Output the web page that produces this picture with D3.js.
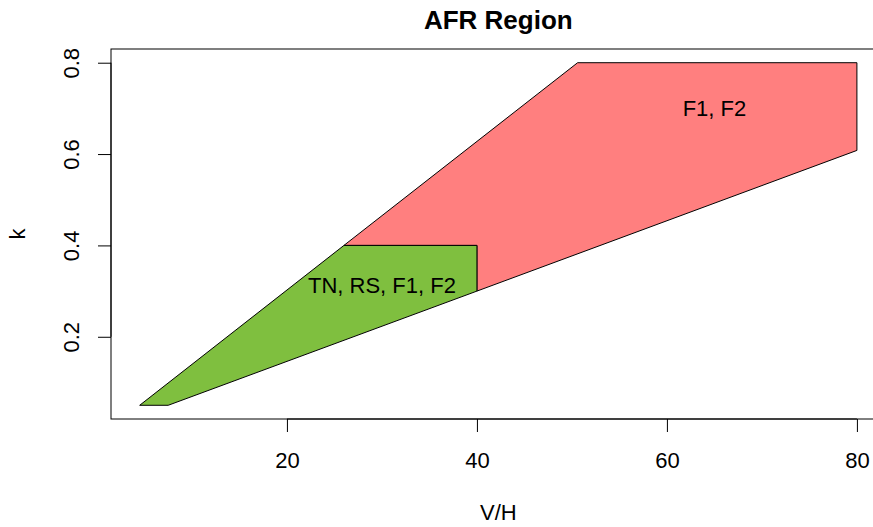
<!DOCTYPE html>
<html>
<head>
<meta charset="utf-8">
<script src="https://cdn.jsdelivr.net/npm/d3@7"></script>
<style>
  body { margin: 0; background: #fff; }
  text { font-family: "Liberation Sans", Arial, sans-serif; fill: #000; }
</style>
</head>
<body>
<div id="chart"></div>
<script>
// AFR region polygons (V/H vs k)
const greenVH = [4.5, 7.5, 40, 40, 26];
const greenK = [0.05, 0.05, 0.3, 0.4, 0.4];
const redVH = [26, 50.6, 80, 80, 40, 40];
const redK = [0.4, 0.8, 0.8, 0.608, 0.3, 0.4];
const regionLabels = ["TN, RS, F1, F2", "F1, F2"];
const labelVH = [30, 65];
const labelK = [0.313, 0.7];
const xTicks = [20, 40, 60, 80];
const yTicks = [0.2, 0.4, 0.6, 0.8];

const W = 873, H = 527;
const box = { left: 111, right: 885.6, top: 49, bottom: 419 };
const fs = "22px";

const svg = d3.select("#chart").append("svg")
    .attr("width", W).attr("height", H);

// R style 4% padding around data range
const x = d3.scaleLinear().domain([1.48, 83.02]).range([box.left, box.right]);
const y = d3.scaleLinear().domain([0.02, 0.83]).range([box.bottom, box.top]);

const line = d3.line().x(d => x(d[0])).y(d => y(d[1]));
const poly = (vx, vy) => line(vx.map((v, i) => [v, vy[i]])) + "Z";

svg.append("path")
    .attr("d", poly(redVH, redK))
    .attr("fill", "#ff7f7f")
    .attr("stroke", "#000").attr("stroke-width", 1);

svg.append("path")
    .attr("d", poly(greenVH, greenK))
    .attr("fill", "#7fbf3f")
    .attr("stroke", "#000").attr("stroke-width", 1);

svg.selectAll(".region-label")
    .data(regionLabels)
    .enter().append("text")
    .attr("class", "region-label")
    .attr("x", (d, i) => x(labelVH[i]))
    .attr("y", (d, i) => y(labelK[i]))
    .attr("text-anchor", "middle")
    .attr("dominant-baseline", "central")
    .style("font-size", fs)
    .text(d => d);

// plot box
svg.append("rect")
    .attr("x", box.left).attr("y", box.top)
    .attr("width", box.right - box.left).attr("height", box.bottom - box.top)
    .attr("fill", "none").attr("stroke", "#000").attr("stroke-width", 1);

// axes
const xAxis = svg.append("g")
    .attr("transform", `translate(0,${box.bottom})`)
    .call(d3.axisBottom(x).tickValues(xTicks).tickSize(13).tickSizeOuter(0));
const yAxis = svg.append("g")
    .attr("transform", `translate(${box.left},0)`)
    .call(d3.axisLeft(y).tickValues(yTicks).tickSize(13).tickFormat(d3.format(".1f")).tickSizeOuter(0));

xAxis.select(".domain").attr("d", `M${x(20)},0H${x(80)}`);
yAxis.select(".domain").attr("d", `M0,${y(0.2)}V${y(0.8)}`);
svg.selectAll(".tick line").attr("stroke", "#000");
xAxis.selectAll("text")
    .style("font-size", fs)
    .attr("y", 49).attr("dy", 0);
yAxis.selectAll("text")
    .style("font-size", fs)
    .attr("text-anchor", "middle")
    .attr("x", 0).attr("dy", 0)
    .attr("transform", "translate(-32,0) rotate(-90)")
    .attr("y", 0)
    .attr("dominant-baseline", "auto");

// title and axis labels
svg.append("text")
    .attr("x", (box.left + box.right) / 2).attr("y", 29)
    .attr("text-anchor", "middle")
    .style("font-size", "26px").style("font-weight", "bold")
    .text("AFR Region");

svg.append("text")
    .attr("x", (box.left + box.right) / 2).attr("y", 520)
    .attr("text-anchor", "middle")
    .style("font-size", fs)
    .text("V/H");

svg.append("text")
    .attr("transform", `translate(25,${(box.top + box.bottom) / 2}) rotate(-90)`)
    .attr("text-anchor", "middle")
    .style("font-size", fs)
    .text("k");
</script>
</body>
</html>
